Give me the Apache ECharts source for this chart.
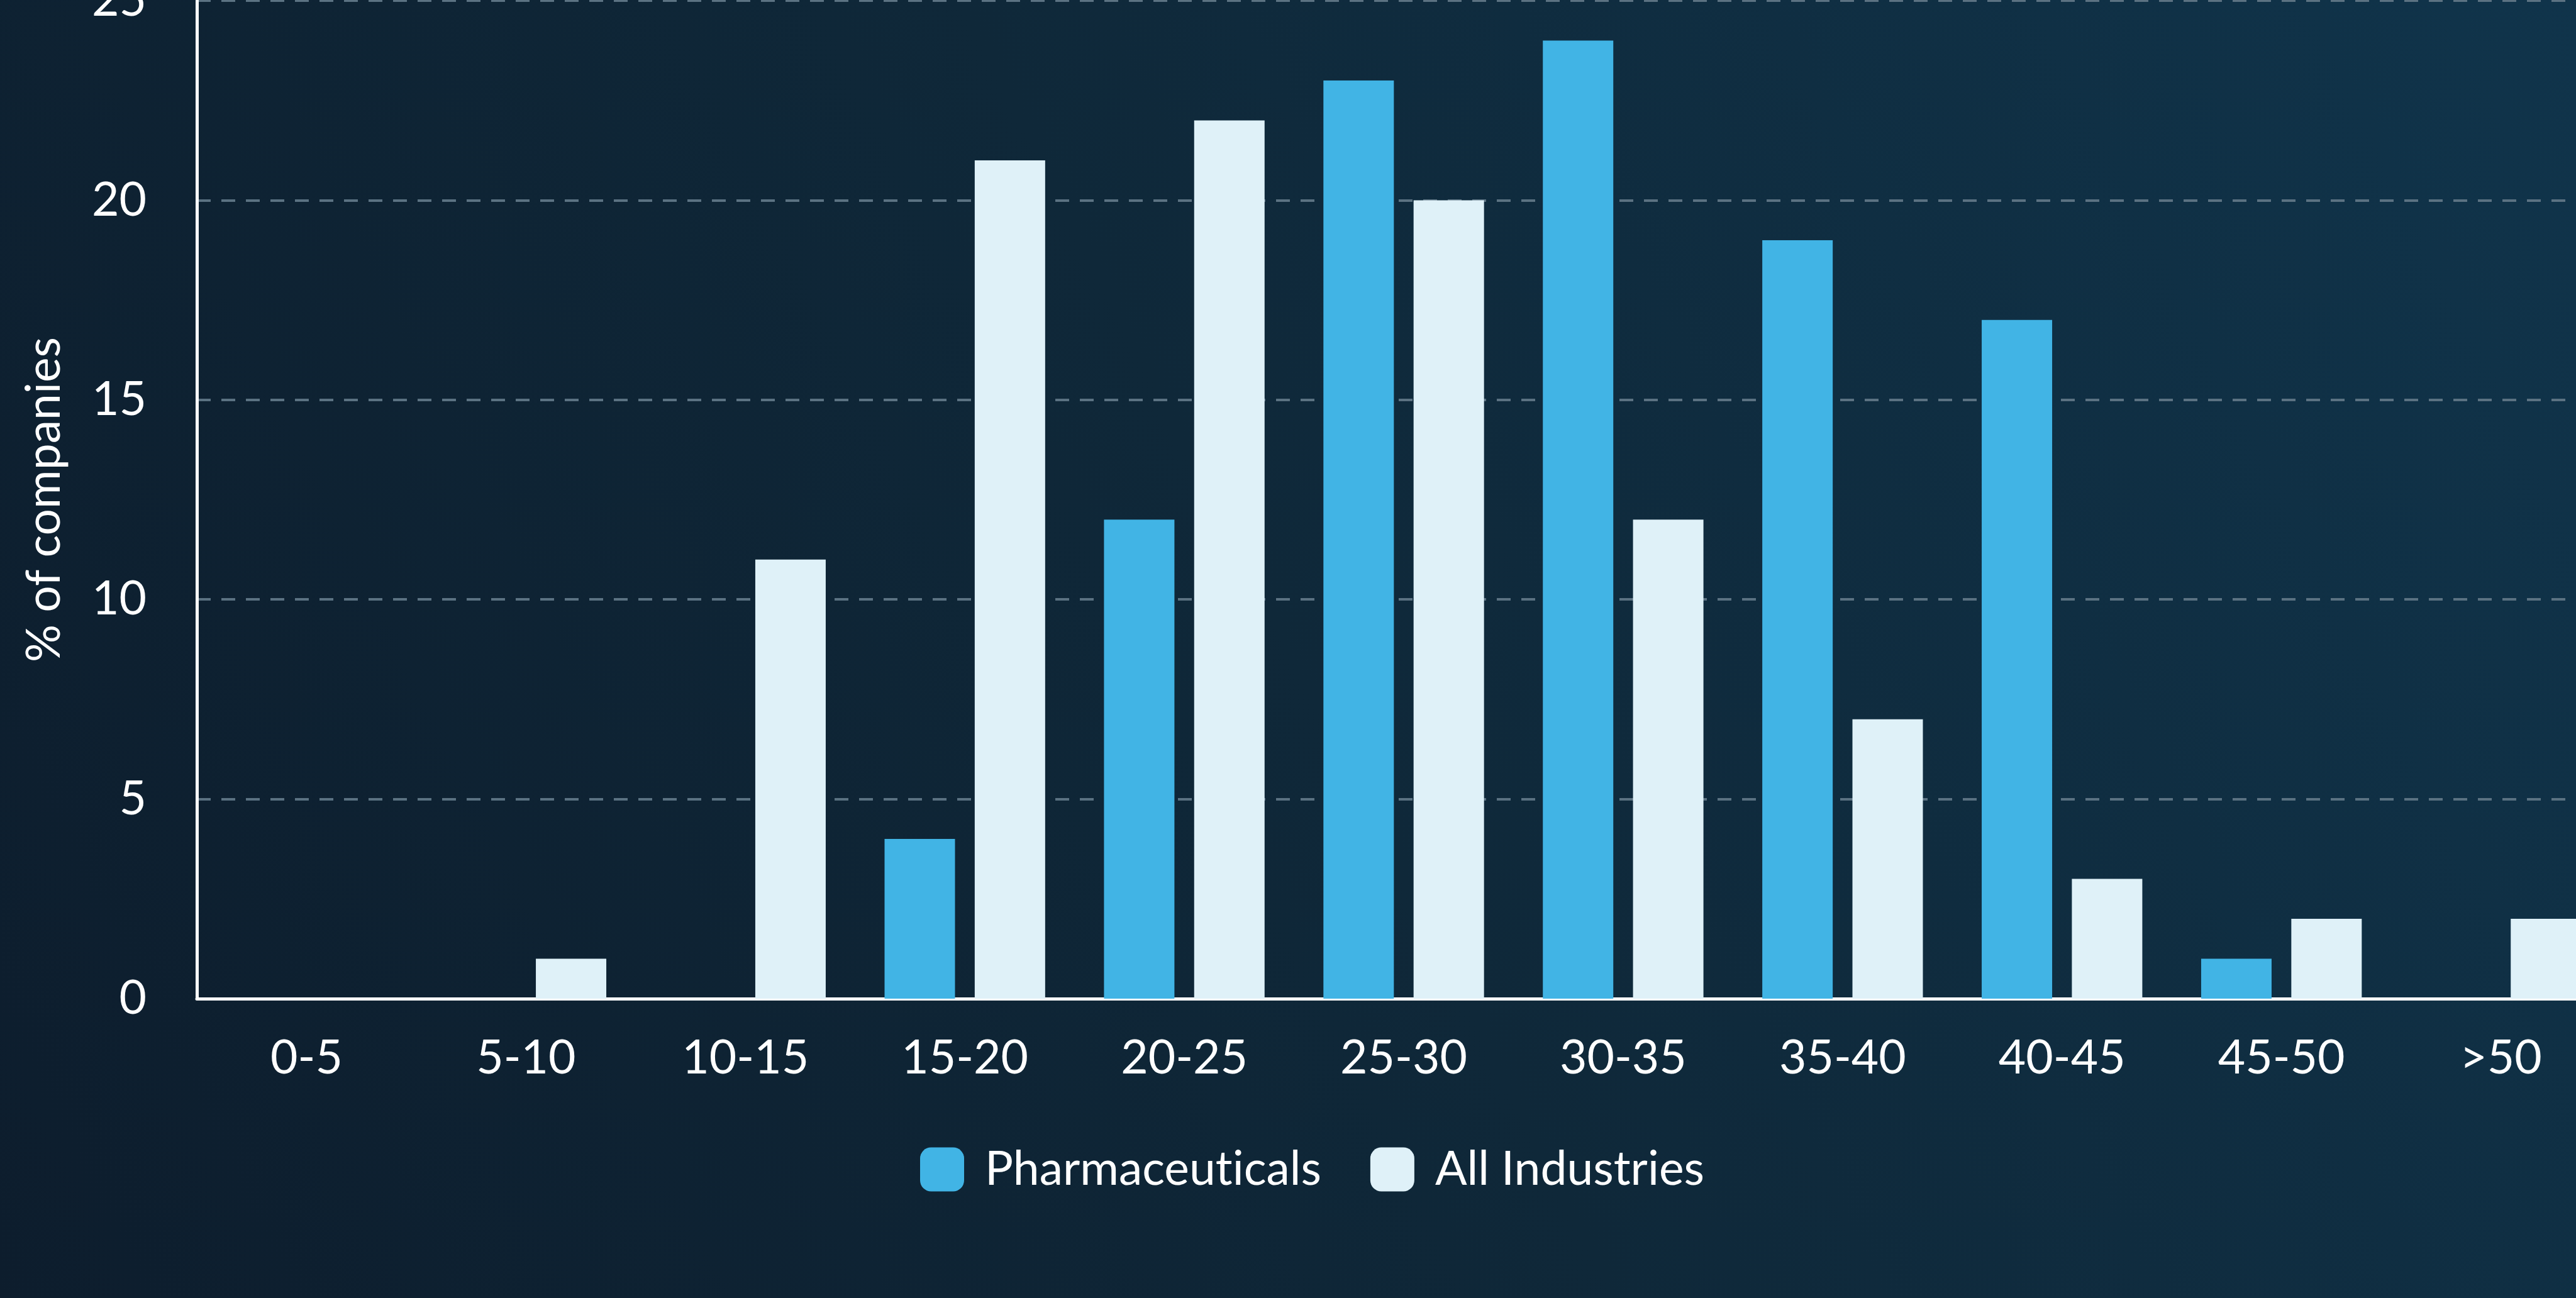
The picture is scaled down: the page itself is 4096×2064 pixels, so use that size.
<!DOCTYPE html>
<html>
<head>
<meta charset="utf-8">
<title>% of companies by range</title>
<script src="https://cdn.jsdelivr.net/npm/echarts@6/dist/echarts.min.js"></script>
<style>
  html, body { margin: 0; padding: 0; width: 100%; height: 100%; overflow: hidden; background: #0f2638; }
  #chart { width: 4096px; height: 2064px; }
</style>
</head>
<body>
<div id="chart"></div>
<script>
// Range buckets along the x axis
const categories = ['0-5', '5-10', '10-15', '15-20', '20-25', '25-30', '30-35', '35-40', '40-45', '45-50', '>50'];

// Share of companies (%) in each bucket
const pharmaceuticals = [0, 0, 0, 4, 12, 23, 24, 19, 17, 1, 0];
const allIndustries   = [0, 1, 11, 21, 22, 20, 12, 7, 3, 2, 2];

// Value axis ticks
const yMin = 0;
const yMax = 25;
const yStep = 5;

const seriesNames = ['Pharmaceuticals', 'All Industries'];
const seriesColors = ['#41b4e5', '#dff1f8'];

const FONT = 'Lato, "Noto Sans", sans-serif';
const TEXT_SIZE = 75;

// Keep "t" and "i" as separate glyphs (Lato otherwise joins them)
const noLigature = (s) => s.replace(/ti/g, 't\u200Ci');

const chart = echarts.init(document.getElementById('chart'), null, { renderer: 'canvas' });

chart.setOption({
  backgroundColor: {
    type: 'linear', x: 0, y: 1, x2: 1, y2: 0,
    colorStops: [
      { offset: 0, color: '#0d1d2d' },
      { offset: 0.5, color: '#0f2839' },
      { offset: 1, color: '#10344b' }
    ]
  },
  animation: false,
  textStyle: { fontFamily: FONT },
  grid: {
    left: 313,
    right: -55,
    top: 1,
    bottom: 476,
    containLabel: false,
    outerBoundsMode: 'none'
  },
  legend: {
    data: seriesNames,
    left: 1458,
    top: 1817,
    itemWidth: 70,
    itemHeight: 70,
    itemGap: 78,
    icon: 'roundRect',
    formatter: noLigature,
    textStyle: {
      color: '#ffffff',
      fontFamily: FONT,
      fontSize: TEXT_SIZE,
      padding: [0, 0, 0, 28]
    }
  },
  xAxis: {
    type: 'category',
    data: categories,
    boundaryGap: true,
    axisLine: { show: true, lineStyle: { color: '#ffffff', width: 5 } },
    axisTick: { show: false },
    axisLabel: {
      color: '#ffffff',
      fontFamily: FONT,
      fontSize: TEXT_SIZE,
      margin: 57,
      interval: 0
    },
    splitLine: { show: false }
  },
  yAxis: {
    type: 'value',
    min: yMin,
    max: yMax,
    interval: yStep,
    name: '% of companies',
    nameLocation: 'middle',
    nameGap: 205,
    nameTextStyle: { color: '#ffffff', fontFamily: FONT, fontSize: TEXT_SIZE },
    axisLine: { show: true, lineStyle: { color: '#ffffff', width: 5 } },
    axisTick: { show: false },
    axisLabel: {
      color: '#ffffff',
      fontFamily: FONT,
      fontSize: TEXT_SIZE,
      margin: 80
    },
    splitLine: {
      show: true,
      lineStyle: { color: '#5b7282', width: 4, type: [22, 17] }
    }
  },
  series: [
    {
      name: seriesNames[0],
      type: 'bar',
      data: pharmaceuticals,
      barWidth: 112,
      barGap: '28%',
      itemStyle: { color: seriesColors[0] }
    },
    {
      name: seriesNames[1],
      type: 'bar',
      data: allIndustries,
      barWidth: 112,
      itemStyle: { color: seriesColors[1] }
    }
  ]
});
</script>
</body>
</html>
